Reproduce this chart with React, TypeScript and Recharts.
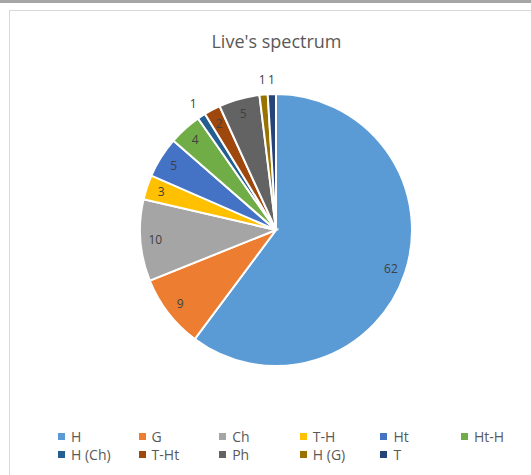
import React from "react";
import { PieChart, Pie, Cell, Legend } from "recharts";

const categories = ["H", "G", "Ch", "T-H", "Ht", "Ht-H", "H (Ch)", "T-Ht", "Ph", "H (G)", "T"];
const values = [62, 9, 10, 3, 5, 4, 1, 2, 5, 1, 1];
const colors = ["#5B9BD5", "#ED7D31", "#A5A5A5", "#FFC000", "#4472C4", "#70AD47", "#255E91", "#9E480E", "#636363", "#997300", "#264478"];

const data = categories.map((name, i) => ({ name, value: values[i] }));
const FONT = "'Open Sans', 'Liberation Sans', sans-serif";
const RAD = Math.PI / 180;

const renderLabel = (p: any) => {
  const { cx, cy, midAngle, outerRadius, value } = p;
  const r = value <= 1 ? outerRadius + 15 : outerRadius * 0.89;
  const x = cx + r * Math.cos(-midAngle * RAD);
  const y = cy + r * Math.sin(-midAngle * RAD);
  return (
    <text x={x} y={y} fill="#404040" fontSize={12} fontFamily={FONT} textAnchor="middle" dominantBaseline="central">
      {value}
    </text>
  );
};

const renderLegend = () => (
  <div style={{ position: "relative", width: 531, height: 40, fontFamily: FONT, fontSize: 14, color: "#595959" }}>
    {categories.map((c, i) => {
      const col = i % 6;
      const row = Math.floor(i / 6);
      return (
        <div key={c} style={{ position: "absolute", left: 58 + col * 80.6, top: row * 18, display: "flex", alignItems: "center", whiteSpace: "nowrap" }}>
          <span style={{ width: 7, height: 7, background: colors[i], display: "inline-block", marginRight: 6 }} />
          {c}
        </div>
      );
    })}
  </div>
);

export default function App() {
  return (
    <div style={{ position: "absolute", left: 0, top: 0, width: 531, height: 475, background: "#fff", overflow: "hidden" }}>
      <div style={{ position: "absolute", left: 0, top: 0, width: 531, height: 3, background: "#a6a6a6" }} />
      <div style={{ position: "absolute", left: 9, top: 10, width: 540, height: 480, border: "1px solid #d9d9d9", boxSizing: "border-box" }} />
      <div style={{ position: "absolute", left: 0, top: 29, width: 553, textAlign: "center", fontFamily: FONT, fontSize: 18, color: "#595959" }}>
        Live's spectrum
      </div>
      <div style={{ position: "absolute", left: 0, top: 0 }}>
        <PieChart width={531} height={475} margin={{ top: 0, right: 0, bottom: 0, left: 0 }}>
          <Pie
            data={data}
            dataKey="value"
            nameKey="name"
            cx={276}
            cy={230}
            outerRadius={136}
            startAngle={90}
            endAngle={-270}
            stroke="#fff"
            strokeWidth={2}
            label={renderLabel}
            labelLine={false}
            isAnimationActive={false}
          >
            {data.map((d, i) => (
              <Cell key={d.name} fill={colors[i]} />
            ))}
          </Pie>
          <Legend content={renderLegend} wrapperStyle={{ left: 0, top: 427, width: 531 }} />
        </PieChart>
      </div>
    </div>
  );
}
